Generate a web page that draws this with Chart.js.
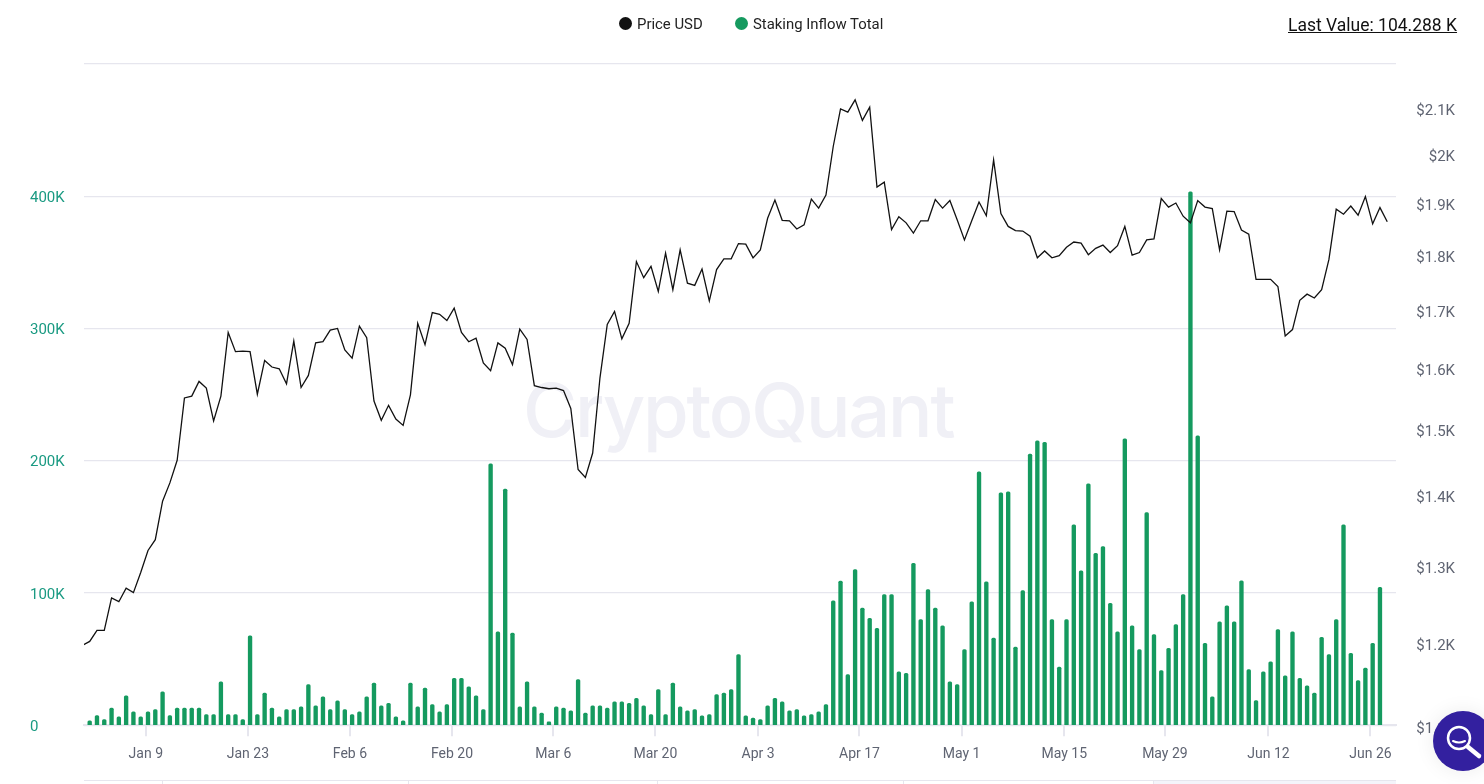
<!DOCTYPE html>
<html lang="en">
<head>
  <meta charset="UTF-8" />
  <title>Price USD vs Staking Inflow Total</title>
  <script src="https://cdn.jsdelivr.net/npm/chart.js"></script>
  <style>
    html, body { margin: 0; padding: 0; background: #fff; overflow: hidden; }
    body { width: 1484px; height: 784px; position: relative; font-family: Roboto, Arial, sans-serif; }
    canvas { position: absolute; left: 0; top: 0; }
    .watermark { position: absolute; left: 523px; top: 373px; font: 500 74px/75px Inter, Roboto, sans-serif; letter-spacing: -2.2px; color: #f0f0f6; white-space: nowrap; }
    .legend { position: absolute; top: 15px; font-size: 14.9px; line-height: 18px; color: #222; white-space: nowrap; }
    .legend i { display: inline-block; width: 13px; height: 13px; border-radius: 50%; margin-right: 5px; vertical-align: -1px; }
    .last { position: absolute; left: 1288px; top: 15px; font-size: 17.5px; line-height: 20px; color: #111; text-decoration: underline; white-space: nowrap; }
    .nav { position: absolute; left: 84px; top: 780px; width: 1312px; height: 4px; border-top: 1px solid #e6e6ee; }
    .nav b { position: absolute; top: 0; width: 1px; height: 4px; background: #e6e6ee; }
    .nav u { position: absolute; top: 0; left: 1069px; width: 243px; height: 4px; background: #f4f4fa; }
    .fab { position: absolute; left: 1433px; top: 711px; width: 60px; height: 60px; border-radius: 50%; background: #33209f; box-shadow: 0 0 20px rgba(0,0,0,.08); }
  </style>
</head>
<body>
  <div class="watermark">CryptoQuant</div>
  <canvas id="chart" width="1484" height="784"></canvas>
  <div class="legend" style="left:619px"><i style="background:#111"></i>Price USD</div>
  <div class="legend" style="left:735px"><i style="background:#159a5f"></i>Staking Inflow Total</div>
  <div class="last">Last Value: 104.288 K</div>
  <div class="nav"><u></u><b style="left:78px"></b><b style="left:324px"></b><b style="left:573px"></b><b style="left:819px"></b><b style="left:1069px"></b></div>
  <div class="fab">
    <svg width="60" height="60" viewBox="0 0 60 60" fill="none" stroke="#fff" stroke-linecap="round">
      <circle cx="26" cy="27" r="11" stroke-width="2.5"/>
      <path d="M35 36 L46 45" stroke-width="4.5"/>
      <path d="M20 30 Q26 33 32 30" stroke-width="2"/>
    </svg>
  </div>

  <script>
    // x values are day numbers, 0 = first bar
    const tickDays = [7.7, 21.7, 35.7, 49.7, 63.6, 77.6, 91.7, 105.6, 119.6, 133.7, 147.5, 161.7, 175.7];
    const tickLabels = ['Jan 9', 'Jan 23', 'Feb 6', 'Feb 20', 'Mar 6', 'Mar 20', 'Apr 3', 'Apr 17', 'May 1', 'May 15', 'May 29', 'Jun 12', 'Jun 26'];

    // price starts one day before the first bar and ends one day after the last
    const priceUsd = [
      1198, 1203, 1217, 1217, 1259, 1254, 1272, 1266, 1293, 1323,
      1338, 1393, 1420, 1454, 1552, 1555, 1579, 1568, 1515, 1555,
      1662, 1629, 1630, 1629, 1558, 1614, 1603, 1600, 1575, 1647,
      1569, 1589, 1644, 1646, 1666, 1669, 1632, 1618, 1673, 1653,
      1547, 1516, 1540, 1518, 1508, 1557, 1678, 1641, 1697, 1694,
      1683, 1705, 1662, 1646, 1652, 1610, 1597, 1644, 1635, 1607,
      1668, 1650, 1572, 1569, 1567, 1568, 1564, 1535, 1440, 1428,
      1465, 1585, 1676, 1699, 1651, 1678, 1790, 1760, 1781, 1735,
      1806, 1738, 1812, 1750, 1746, 1776, 1718, 1775, 1795, 1795,
      1824, 1823, 1797, 1812, 1873, 1909, 1869, 1868, 1852, 1860,
      1911, 1893, 1919, 2019, 2100, 2093, 2120, 2075, 2104, 1935,
      1945, 1851, 1876, 1864, 1844, 1868, 1868, 1910, 1893, 1908,
      1870, 1831, 1868, 1905, 1878, 1991, 1882, 1857, 1849, 1848,
      1838, 1797, 1810, 1797, 1801, 1817, 1827, 1825, 1803, 1815,
      1821, 1807, 1820, 1857, 1802, 1807, 1831, 1833, 1912, 1895,
      1903, 1877, 1864, 1908, 1895, 1892, 1812, 1887, 1886, 1850,
      1842, 1757, 1757, 1757, 1744, 1656, 1667, 1719, 1730, 1723,
      1738, 1794, 1891, 1881, 1897, 1879, 1916, 1862, 1894, 1866
    ];

    const stakingInflow = [
      3.3, 7.3, 4.3, 12.9, 6.3, 22.2, 10.1, 6.3, 10.1, 11.8,
      25.2, 7.3, 12.9, 12.9, 12.9, 12.9, 8.1, 8.1, 32.8, 8.1,
      8.1, 4.3, 67.5, 8.1, 24.2, 12.9, 6.3, 11.8, 11.8, 13.9,
      30.7, 14.6, 21.4, 11.8, 18.4, 11.8, 8.1, 10.1, 21.4, 31.8,
      14.6, 16.6, 6.3, 3.3, 31.8, 13.9, 28, 15.6, 10.1, 15.6,
      35.5, 35.5, 29, 22.2, 11.8, 197.7, 70.6, 178.6, 69.6, 13.9,
      32.8, 13.9, 9.1, 2.5, 13.9, 12.9, 10.8, 34.5, 9.1, 14.6,
      14.6, 12.9, 17.6, 17.6, 16.6, 20.4, 14.6, 8.1, 27, 8.1,
      31.8, 13.9, 10.8, 11.8, 7.1, 8.1, 23.2, 24.2, 27, 53.4,
      7.1, 5.3, 4.3, 14.6, 20.4, 17.6, 10.8, 11.8, 7.1, 8.1,
      10.1, 15.6, 94, 109, 38.3, 117.7, 88.5, 80.9, 73.3, 98.8,
      98.8, 40.3, 39.3, 122.5, 79.9, 102.6, 88.5, 75.1, 32.8, 30.7,
      57.2, 93.2, 191.6, 108.4, 65.8, 175.8, 176.5, 59, 101.8, 205,
      215, 214, 79.9, 44, 79.9, 151.6, 116.7, 182.6, 130, 135,
      92.2, 70.6, 216.6, 75.1, 57.2, 160.7, 68.5, 41.3, 58.2, 76.1,
      98.8, 403.3, 218.9, 62, 21.4, 78.1, 90.2, 78.1, 109.1, 42,
      18.6, 40.3, 47.9, 72.3, 37.3, 70.6, 35.5, 29.7, 24.2, 66.5,
      53.4, 79.9, 151.6, 54.4, 33.8, 43.1, 62, 104.288
    ];

    const inflowTicks = [0, 100, 200, 300, 400, 500];
    const priceTicks = [1100, 1200, 1300, 1400, 1500, 1600, 1700, 1800, 1900, 2000, 2100];

    new Chart(document.getElementById('chart').getContext('2d'), {
      data: {
        datasets: [
          {
            type: 'line',
            label: 'Price USD',
            yAxisID: 'yPrice',
            data: priceUsd.map((v, i) => ({ x: i - 1, y: v })),
            borderColor: '#111111',
            borderWidth: 1.3,
            pointRadius: 0,
            tension: 0,
            order: 1
          },
          {
            type: 'bar',
            label: 'Staking Inflow Total',
            yAxisID: 'yInflow',
            data: stakingInflow.map((v, i) => ({ x: i, y: v })),
            backgroundColor: '#159a5f',
            barThickness: 3.7,
            borderRadius: { topLeft: 1.5, topRight: 1.5 },
            borderSkipped: 'bottom',
            order: 2
          }
        ]
      },
      options: {
        responsive: false,
        animation: false,
        layout: { padding: { left: 30, right: 29, top: 64, bottom: 11 } },
        plugins: { legend: { display: false }, tooltip: { enabled: false } },
        scales: {
          x: {
            type: 'linear',
            offset: false,
            min: -0.78,
            max: 179.2,
            afterBuildTicks: axis => { axis.ticks = tickDays.map(value => ({ value })); },
            grid: { offset: false, drawOnChartArea: false, color: '#e6e6ee', tickLength: 11, lineWidth: 2 },
            border: { color: '#e6e6ee', width: 2 },
            ticks: {
              autoSkip: false,
              maxRotation: 0,
              padding: 10,
              color: '#5f6472',
              font: { family: 'Roboto', size: 14 },
              callback: (v, i) => tickLabels[i]
            }
          },
          yInflow: {
            position: 'left',
            min: 0,
            max: 500,
            afterBuildTicks: axis => { axis.ticks = inflowTicks.map(value => ({ value })); },
            afterFit: axis => { axis.width = 54; },
            grid: { color: '#e6e6ee', drawTicks: false, lineWidth: 1.3 },
            border: { display: false },
            ticks: {
              crossAlign: 'far',
              labelOffset: 2,
              color: '#1a9a82',
              font: { family: 'Roboto', size: 15 },
              callback: v => v === 0 ? '0' : (v === 500 ? '' : v + 'K')
            }
          },
          yPrice: {
            type: 'logarithmic',
            position: 'right',
            min: 1102,
            max: 2201,
            afterBuildTicks: axis => { axis.ticks = priceTicks.map(value => ({ value })); },
            afterFit: axis => { axis.width = 59; },
            grid: { drawOnChartArea: false, drawTicks: false },
            border: { display: false },
            ticks: {
              autoSkip: false,
              crossAlign: 'far',
              labelOffset: 2,
              color: '#5f6472',
              font: { family: 'Roboto', size: 15 },
              callback: v => v === 2000 ? '$2K' : '$' + (v / 1000).toFixed(1) + 'K'
            }
          }
        }
      }
    });
  </script>
</body>
</html>
